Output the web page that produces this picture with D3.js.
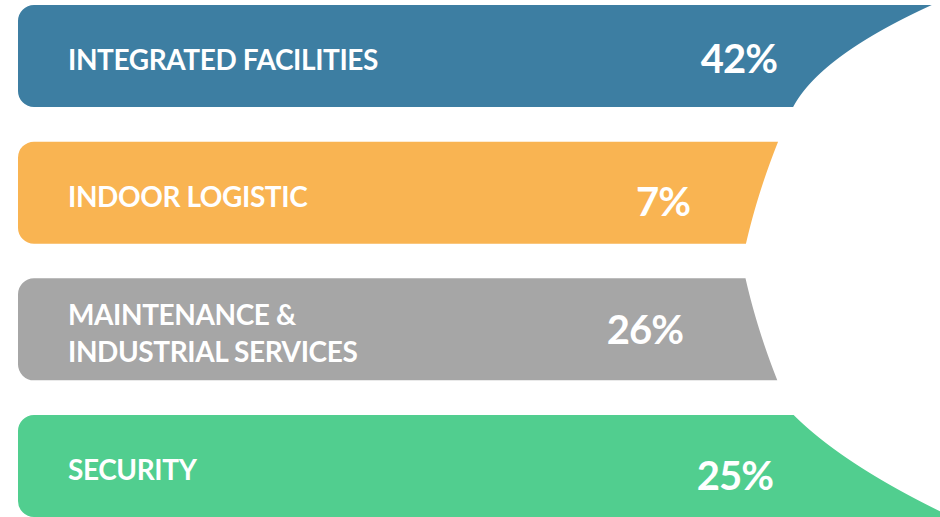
<!DOCTYPE html>
<html>
<head>
<meta charset="utf-8">
<script src="https://cdn.jsdelivr.net/npm/d3@7"></script>
<style>
  html, body { margin: 0; padding: 0; background: #fff; overflow: hidden; }
  svg { display: block; }
  .bar-label, .value-label { fill: #fff; font-family: Lato, "Open Sans", sans-serif; font-weight: 700; }
  .bar-label { letter-spacing: -0.4px; }
  .value-label { letter-spacing: -1px; }
</style>
</head>
<body>
<svg id="chart"></svg>
<script>
// data
const categories = ["INTEGRATED FACILITIES", "INDOOR LOGISTIC", "MAINTENANCE & INDUSTRIAL SERVICES", "SECURITY"];
const labelLines = [["INTEGRATED FACILITIES"], ["INDOOR LOGISTIC"], ["MAINTENANCE &", "INDUSTRIAL SERVICES"], ["SECURITY"]];
const shares = [42, 7, 26, 25];
const colors = ["#3d7ea2", "#f9b452", "#a6a6a6", "#51ce8f"];

class FunnelBars {
  constructor(_config, _data) {
    this.config = {
      parentElement: _config.parentElement,
      containerWidth: 940,
      containerHeight: 517,
      barLeft: 18,
      cornerRadius: 16,
      bandTop: 5,
      bandBottom: 517,
      labelX: 68,
      labelSize: 28,
      lineGap: 37,
      valueSize: 40,
      // right end of each % label, and small vertical nudge
      valueRight: [777, 690, 683, 773],
      valueDy: [2, 8, 0, 9],
      // concave cut on the right side
      cutX0: 742,
      cutCenterY: 262,
      cutKnee: 150
    };
    this.data = _data;
    this.initVis();
  }

  initVis() {
    let vis = this;

    vis.svg = d3.select(vis.config.parentElement)
      .attr("width", vis.config.containerWidth)
      .attr("height", vis.config.containerHeight);

    vis.yScale = d3.scaleBand()
      .range([vis.config.bandTop, vis.config.bandBottom])
      .paddingInner(0.254)
      .paddingOuter(0);

    vis.colorScale = d3.scaleOrdinal().range(colors);

    vis.chart = vis.svg.append("g");

    vis.updateVis();
  }

  // x of the right-hand cut for a given y
  cutX(y) {
    let c = this.config;
    const d = Math.abs(y - c.cutCenterY);
    const e = Math.max(0, d - c.cutKnee);
    let base = c.cutX0 + 0.2 * d + 0.00083 * d * d;
    if (y < c.cutCenterY) return base + 0.0073 * e * e;
    return base + 1.3 * (0.4 * e + 0.0035 * e * e);
  }

  barPath(top, bottom) {
    let vis = this;
    const x0 = vis.config.barLeft, r = vis.config.cornerRadius;
    const p = d3.path();
    p.moveTo(x0 + r, top);
    d3.range(top, bottom, 1).forEach(y => p.lineTo(vis.cutX(y), y));
    p.lineTo(vis.cutX(bottom), bottom);
    p.lineTo(x0 + r, bottom);
    p.arcTo(x0, bottom, x0, bottom - r, r);
    p.lineTo(x0, top + r);
    p.arcTo(x0, top, x0 + r, top, r);
    p.closePath();
    return p.toString();
  }

  updateVis() {
    let vis = this;

    vis.rows = vis.data.categories.map((cat, i) => ({
      cat,
      lines: vis.data.labelLines[i],
      share: vis.data.shares[i],
      i
    }));

    vis.yScale.domain(vis.rows.map(d => d.cat));
    vis.colorScale.domain(vis.rows.map(d => d.cat));

    vis.renderVis();
  }

  renderVis() {
    let vis = this;
    const bw = vis.yScale.bandwidth();

    vis.chart.selectAll(".bar")
      .data(vis.rows, d => d.cat)
      .join("path")
      .attr("class", "bar")
      .attr("d", d => {
        const top = vis.yScale(d.cat);
        return vis.barPath(top, top + bw);
      })
      .attr("fill", d => vis.colorScale(d.cat));

    // category labels
    const labels = vis.chart.selectAll(".bar-label")
      .data(vis.rows, d => d.cat)
      .join("text")
      .attr("class", "bar-label")
      .attr("x", vis.config.labelX)
      .attr("y", d => vis.yScale(d.cat) + bw / 2)
      .style("font-size", vis.config.labelSize + "px");

    labels.selectAll("tspan")
      .data(d => d.lines.map((t, k) => ({ t, k, n: d.lines.length })))
      .join("tspan")
      .attr("x", vis.config.labelX)
      .attr("dy", d => d.k === 0 ? ((-(d.n - 1) / 2) * vis.config.lineGap + 14) + "px" : vis.config.lineGap + "px")
      .text(d => d.t);

    // percentage labels
    vis.chart.selectAll(".value-label")
      .data(vis.rows, d => d.cat)
      .join("text")
      .attr("class", "value-label")
      .attr("text-anchor", "end")
      .attr("x", d => vis.config.valueRight[d.i])
      .attr("y", d => vis.yScale(d.cat) + bw / 2 + 15 + vis.config.valueDy[d.i])
      .style("font-size", vis.config.valueSize + "px")
      .text(d => d.share + "%");
  }
}

new FunnelBars({ parentElement: "#chart" }, { categories, labelLines, shares });
</script>
</body>
</html>
